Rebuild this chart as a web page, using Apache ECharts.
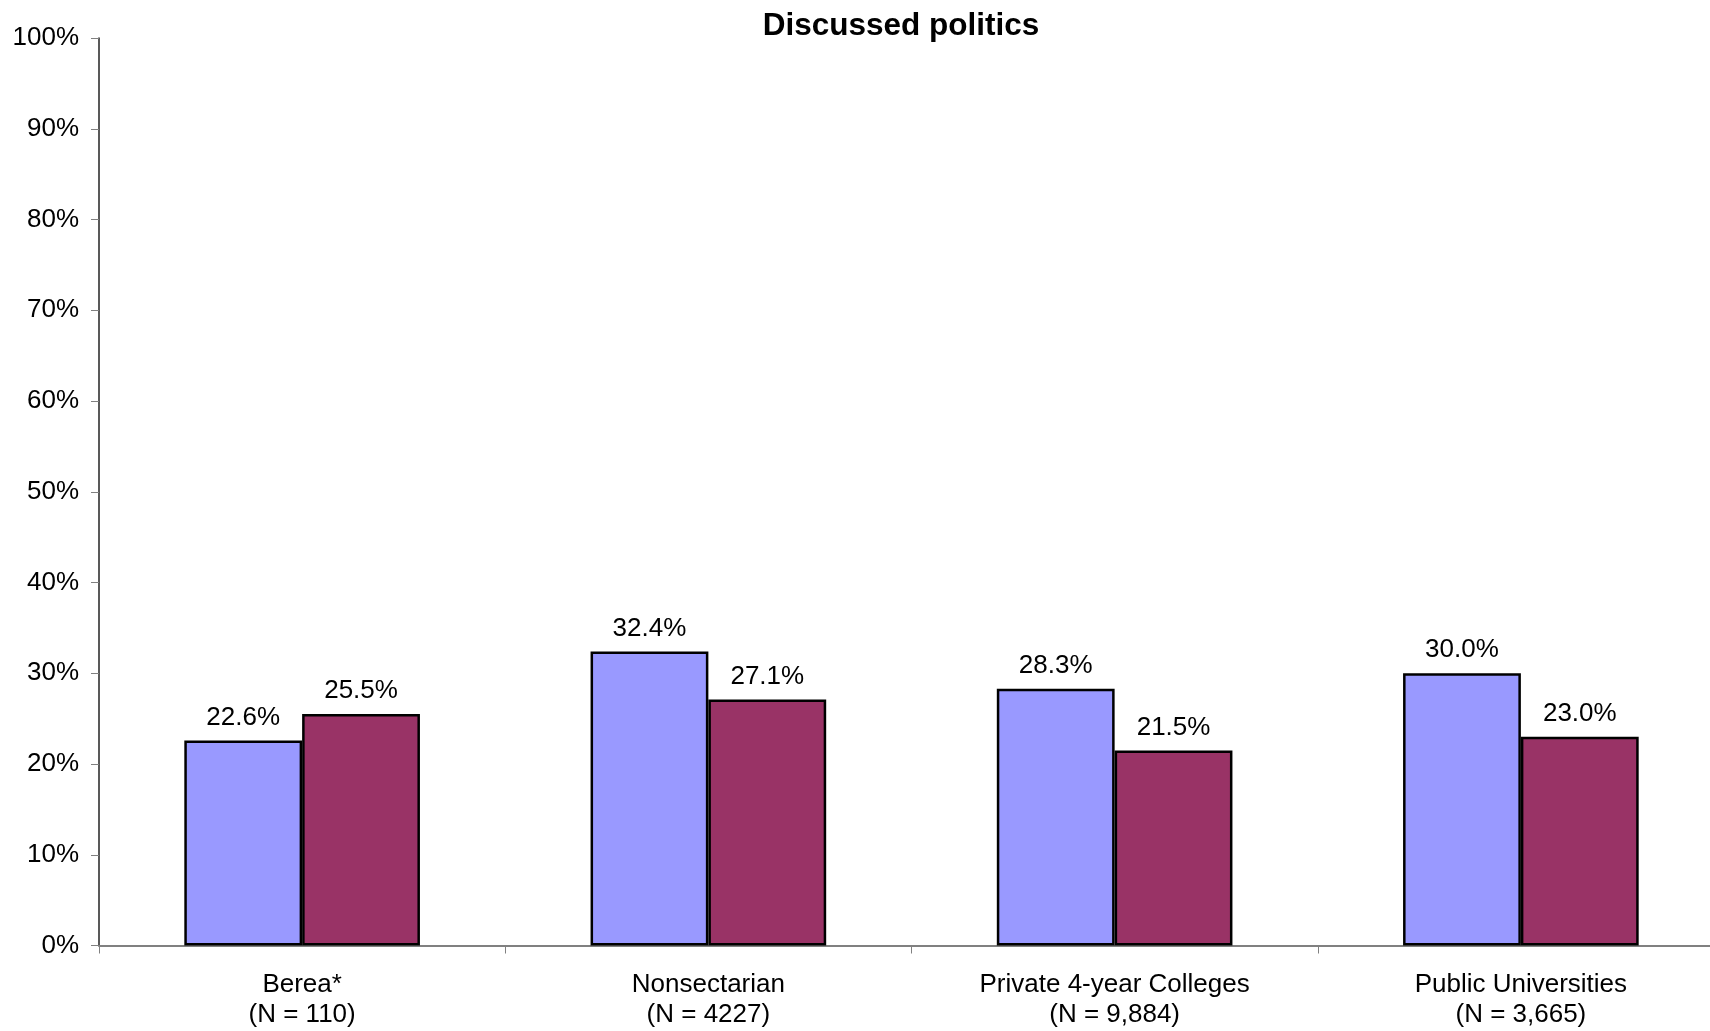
<!DOCTYPE html>
<html>
<head>
<meta charset="utf-8">
<script src="https://cdn.jsdelivr.net/npm/echarts@6/dist/echarts.min.js"></script>
<style>
  html, body { margin: 0; padding: 0; background: #fff; }
  #chart { width: 1710px; height: 1031px; }
</style>
</head>
<body>
<div id="chart"></div>
<script>
// 数据
const categories = [
  'Berea*\n(N = 110)',
  'Nonsectarian\n(N = 4227)',
  'Private 4-year Colleges\n(N = 9,884)',
  'Public Universities\n(N = 3,665)'
]
const seriesA = [22.6, 32.4, 28.3, 30.0]
const seriesB = [25.5, 27.1, 21.5, 23.0]
const yTicks = [0, 10, 20, 30, 40, 50, 60, 70, 80, 90, 100]

const font = 'Liberation Sans, Arial, sans-serif'

const labelStyle = {
  show: true,
  position: 'top',
  distance: 10,
  color: '#000',
  fontFamily: font,
  fontSize: 26,
  formatter: p => p.value.toFixed(1) + '%'
}

const option = {
  animation: false,
  backgroundColor: '#fff',
  title: {
    text: 'Discussed politics',
    left: 896,
    textAlign: 'center',
    top: 5,
    textStyle: { fontFamily: font, fontSize: 31.5, fontWeight: 'bold', color: '#000' }
  },
  grid: {
    left: 99,
    width: 1625,
    top: 38,
    bottom: 85.5,
    containLabel: false,
    outerBoundsMode: 'none' // 允许坐标轴超出右边界
  },
  xAxis: {
    type: 'category',
    data: categories,
    axisLine: { lineStyle: { color: '#808080', width: 2 } },
    axisTick: { show: true, length: 8, lineStyle: { color: '#808080' } },
    axisLabel: {
      interval: 0,
      margin: 24,
      color: '#000',
      fontFamily: font,
      fontSize: 26,
      lineHeight: 30
    },
    splitLine: { show: false }
  },
  yAxis: {
    type: 'value',
    min: yTicks[0],
    max: yTicks[yTicks.length - 1],
    interval: 10,
    axisLine: { show: true, lineStyle: { color: '#222', width: 1.5 } },
    axisTick: { show: true, length: 8, lineStyle: { color: '#808080' } },
    axisLabel: {
      margin: 20,
      color: '#000',
      fontFamily: font,
      fontSize: 26,
      formatter: '{value}%'
    },
    splitLine: { show: false }
  },
  series: [
    {
      name: 'A',
      type: 'bar',
      data: seriesA,
      barGap: '0%',
      barCategoryGap: '42%',
      itemStyle: { color: '#9999FF', borderColor: '#000', borderWidth: 2.5 },
      label: labelStyle
    },
    {
      name: 'B',
      type: 'bar',
      data: seriesB,
      itemStyle: { color: '#993366', borderColor: '#000', borderWidth: 2.5 },
      label: labelStyle
    }
  ]
}

const myChart = echarts.init(document.getElementById('chart'))
myChart.setOption(option, true)
</script>
</body>
</html>
